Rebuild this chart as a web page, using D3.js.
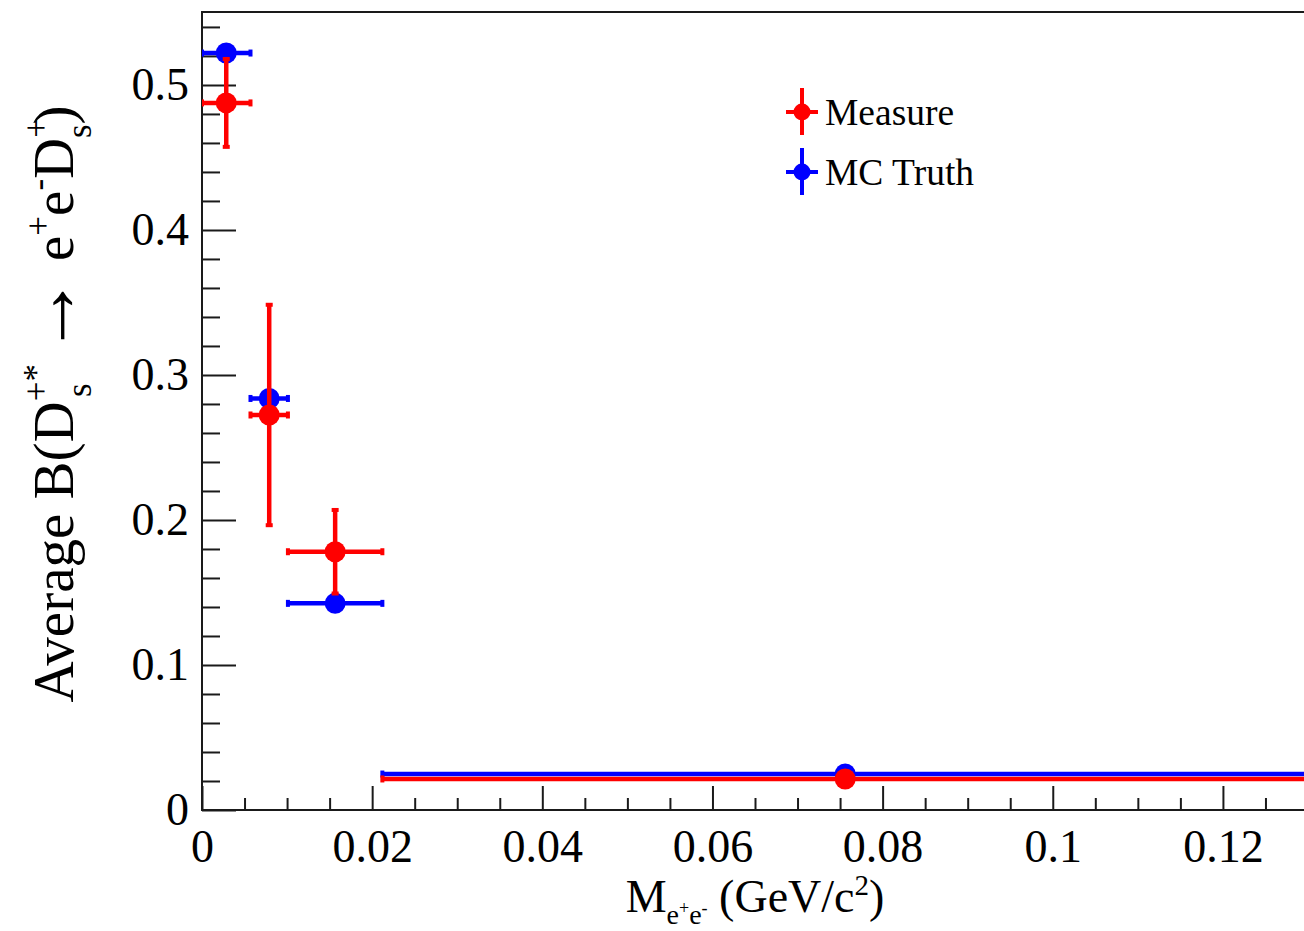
<!DOCTYPE html>
<html>
<head>
<meta charset="utf-8">
<script src="https://cdn.jsdelivr.net/npm/d3@7"></script>
<style>
  html, body { margin: 0; padding: 0; background: #fff; }
  svg { display: block; font-family: "Liberation Serif", "Times New Roman", serif; }
</style>
</head>
<body>
<svg id="chart" width="1304" height="931"></svg>
<script>
// Bin centres and half-widths in M(e+e-) [GeV/c^2]
const binCenters = [0.00285, 0.0079, 0.01565, 0.0756];
const binHalfWidths = [0.00285, 0.0022, 0.00555, 0.0544];

// Measured average branching fraction and its uncertainty
const measureValues = [0.4876, 0.2724, 0.1781, 0.0214];
const measureErrors = [0.0303, 0.0760, 0.0288, 0.0010];

// MC truth average branching fraction and its uncertainty
const truthValues = [0.5220, 0.2838, 0.1425, 0.0248];
const truthErrors = [0.0030, 0.0030, 0.0020, 0.0008];

// Axis ticks
const xMajorTicks = [0, 0.02, 0.04, 0.06, 0.08, 0.1, 0.12];
const xTickLabels = ["0", "0.02", "0.04", "0.06", "0.08", "0.1", "0.12"];
const yMajorTicks = [0, 0.1, 0.2, 0.3, 0.4, 0.5];
const yTickLabels = ["0", "0.1", "0.2", "0.3", "0.4", "0.5"];

const svg = d3.select("#chart");
const frame = { left: 202, right: 1308, top: 12, bottom: 810 };

const x = d3.scaleLinear().domain([0, 0.13]).range([frame.left, frame.right]);
const y = d3.scaleLinear().domain([0, 0.5503]).range([frame.bottom, frame.top]);

const xMinor = d3.range(0, 0.1301, 0.005).filter(v => !xMajorTicks.some(t => Math.abs(t - v) < 1e-9));
const yMinor = d3.range(0, 0.551, 0.02).filter(v => !yMajorTicks.some(t => Math.abs(t - v) < 1e-9));

const axisColor = "#1a1a1a";

// Frame
svg.append("rect")
  .attr("x", frame.left).attr("y", frame.top)
  .attr("width", frame.right - frame.left).attr("height", frame.bottom - frame.top)
  .attr("fill", "none").attr("stroke", axisColor).attr("stroke-width", 2);

function styleAxis(g) {
  g.select(".domain").remove();
  g.selectAll(".tick line").attr("stroke", axisColor).attr("stroke-width", 2);
  g.selectAll(".tick text").attr("fill", "#000");
}

// X axis (ticks pointing into the frame)
svg.append("g")
  .attr("transform", `translate(0,${frame.bottom})`)
  .call(d3.axisBottom(x).tickValues(xMinor).tickSize(-12).tickFormat(""))
  .call(styleAxis);

svg.append("g")
  .attr("transform", `translate(0,${frame.bottom})`)
  .call(d3.axisBottom(x).tickValues(xMajorTicks).tickSize(-24).tickPadding(19)
        .tickFormat((d, i) => xTickLabels[i]))
  .call(styleAxis)
  .call(g => g.selectAll(".tick text").attr("font-size", 46).attr("font-family", "Liberation Serif, serif"));

// Y axis
svg.append("g")
  .attr("transform", `translate(${frame.left},0)`)
  .call(d3.axisLeft(y).tickValues(yMinor).tickSize(-18).tickFormat(""))
  .call(styleAxis);

svg.append("g")
  .attr("transform", `translate(${frame.left},0)`)
  .call(d3.axisLeft(y).tickValues(yMajorTicks).tickSize(-34).tickPadding(13)
        .tickFormat((d, i) => yTickLabels[i]))
  .call(styleAxis)
  .call(g => g.selectAll(".tick text").attr("font-size", 46).attr("font-family", "Liberation Serif, serif"));

// Data points with error bars
const plot = svg.append("g");
plot.append("clipPath").attr("id", "frameClip")
  .append("rect").attr("x", frame.left).attr("y", frame.top)
  .attr("width", frame.right - frame.left).attr("height", frame.bottom - frame.top);

function drawSeries(values, errors, color) {
  const g = plot.append("g").attr("clip-path", "url(#frameClip)");
  const pts = binCenters.map((c, i) => ({ c, hw: binHalfWidths[i], v: values[i], e: errors[i] }));
  const lw = 4.5;
  pts.forEach(p => {
    const cx = x(p.c), cy = y(p.v);
    const x0 = x(p.c - p.hw), x1 = x(p.c + p.hw);
    const y0 = y(p.v - p.e), y1 = y(p.v + p.e);
    g.append("line").attr("x1", x0).attr("x2", x1).attr("y1", cy).attr("y2", cy)
      .attr("stroke", color).attr("stroke-width", lw);
    g.append("line").attr("x1", cx).attr("x2", cx).attr("y1", y0).attr("y2", y1)
      .attr("stroke", color).attr("stroke-width", lw);
    // short end blobs
    [x0, x1].forEach(xe => g.append("rect").attr("x", xe - 2).attr("y", cy - 3.5)
      .attr("width", 4).attr("height", 7).attr("fill", color));
    if (p.e > 0.005) {
      [y0, y1].forEach(ye => g.append("rect").attr("x", cx - 3.5).attr("y", ye - 2)
        .attr("width", 7).attr("height", 4).attr("fill", color));
    }
    g.append("circle").attr("cx", cx).attr("cy", cy).attr("r", 10.5).attr("fill", color);
  });
}

drawSeries(truthValues, truthErrors, "#0000ff");
drawSeries(measureValues, measureErrors, "#ff0000");

// Legend
const legend = svg.append("g");
const legendEntries = [
  { label: "Measure", color: "#ff0000", y: 112 },
  { label: "MC Truth", color: "#0000ff", y: 172 }
];
legendEntries.forEach(e => {
  legend.append("line").attr("x1", 802).attr("x2", 802).attr("y1", e.y - 24).attr("y2", e.y + 23)
    .attr("stroke", e.color).attr("stroke-width", 4);
  legend.append("line").attr("x1", 786).attr("x2", 818).attr("y1", e.y).attr("y2", e.y)
    .attr("stroke", e.color).attr("stroke-width", 4);
  legend.append("circle").attr("cx", 802).attr("cy", e.y).attr("r", 8.5).attr("fill", e.color);
  legend.append("text").attr("x", 825).attr("y", e.y + 13)
    .attr("font-size", 37.5).attr("fill", "#000").text(e.label);
});

// X axis title: M_{e+e-} (GeV/c^2)
const xt = svg.append("text")
  .attr("x", (frame.left + frame.right) / 2).attr("y", 912)
  .attr("text-anchor", "middle").attr("font-size", 46).attr("fill", "#000");
xt.append("tspan").text("M");
xt.append("tspan").attr("font-size", 28).attr("dy", 12).text("e");
xt.append("tspan").attr("font-size", 18).attr("dy", -10).text("+");
xt.append("tspan").attr("font-size", 28).attr("dy", 10).text("e");
xt.append("tspan").attr("font-size", 18).attr("dy", -10).text("-");
xt.append("tspan").attr("dy", -2).text(" (GeV/c");
xt.append("tspan").attr("font-size", 29).attr("dy", -17).text("2");
xt.append("tspan").attr("dy", 17).text(")");

// Y axis title: Average B(D_s^{+*} -> e+e- D_s^+)
const yt = svg.append("text")
  .attr("transform", "translate(73,404) rotate(-90)")
  .attr("text-anchor", "middle").attr("font-size", 57).attr("fill", "#000");
yt.append("tspan").text("Average B(D");
yt.append("tspan").attr("font-size", 35).attr("dy", -25).text("+*");
yt.append("tspan").attr("font-size", 35).attr("dx", -33).attr("dy", 43).text("s");
yt.append("tspan").attr("dy", -18).attr("dx", 14).text(" ");
yt.append("tspan").attr("font-size", 80).attr("dy", 3).text("\u2192");
yt.append("tspan").attr("dy", -3).text(" e");
yt.append("tspan").attr("font-size", 35).attr("dy", -23).text("+");
yt.append("tspan").attr("dy", 23).text("e");
yt.append("tspan").attr("font-size", 35).attr("dy", -23).text("-");
yt.append("tspan").attr("dy", 23).text("D");
yt.append("tspan").attr("font-size", 35).attr("dy", -25).text("+");
yt.append("tspan").attr("font-size", 35).attr("dx", -20).attr("dy", 43).text("s");
yt.append("tspan").attr("dy", -18).text(")");
</script>
</body>
</html>
